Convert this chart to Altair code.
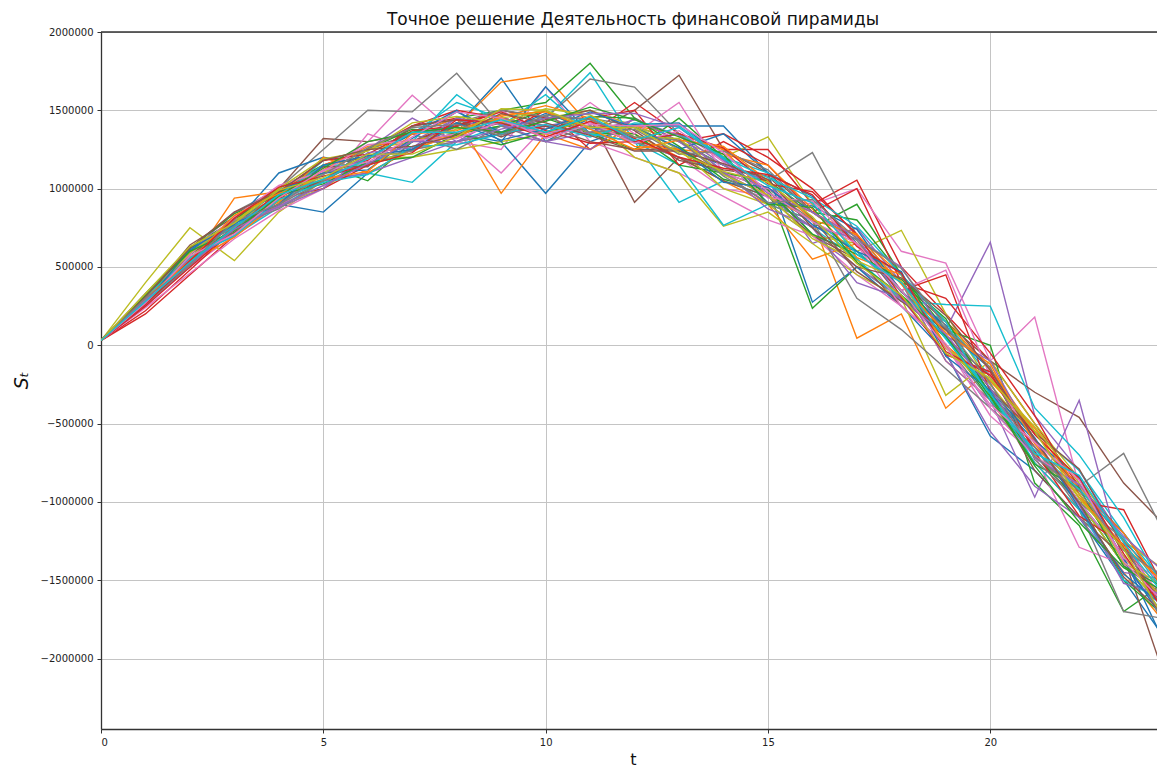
import altair as alt
import pandas as pd

# time steps
T = list(range(25))

# values, in thousands
UNIT = 1000
S00 = [30, 250, 540, 720, 900, 850, 1100, 1250, 1400, 1705, 1300, 1450, 1300, 1250, 1150, 1050, 700, 600, 350, 0, -400, -700, -1000, -1400, -1750]
S01 = [30, 280, 600, 800, 950, 1100, 1200, 1300, 1400, 1680, 1724, 1400, 1300, 1250, 1100, 950, 800, 45, 200, -402, -150, -600, -900, -1300, -1600]
S02 = [30, 300, 580, 780, 950, 1100, 1200, 1350, 1450, 1500, 1550, 1800, 1450, 1300, 1150, 1000, 236, 500, 300, 50, -300, -700, -1000, -1400, -1700]
S03 = [30, 200, 450, 700, 900, 1150, 1250, 1400, 1500, 1450, 1400, 1350, 1550, 1350, 1250, 1250, 900, 1054, 500, 200, -100, -500, -900, -1250, -1550]
S04 = [30, 270, 520, 760, 930, 1050, 1250, 1450, 1300, 1350, 1400, 1450, 1300, 1200, 1100, 900, 700, 500, 300, 100, 658, -450, -800, -1250, -1700]
S05 = [30, 300, 600, 800, 1000, 1320, 1300, 1350, 1400, 1450, 1400, 1350, 1500, 1724, 1250, 1100, 850, 650, 400, 150, -100, -300, -460, -880, -1170]
S06 = [30, 260, 500, 700, 900, 1100, 1300, 1596, 1350, 1100, 1400, 1350, 1300, 1200, 1000, 950, 900, 1000, 600, 524, -100, 180, -900, -1300, -1650]
S07 = [30, 320, 620, 850, 1000, 1250, 1500, 1490, 1737, 1400, 1350, 1450, 1400, 1300, 1150, 1000, 800, 600, 350, 50, -250, -650, -900, -690, -1250]
S08 = [30, 400, 750, 540, 850, 1050, 1150, 1250, 1350, 1400, 1450, 1500, 1400, 1300, 1200, 1330, 900, 600, 734, 200, -250, -600, -1000, -1400, -1700]
S09 = [30, 290, 560, 700, 880, 1050, 1100, 1040, 1300, 1400, 1450, 1740, 1300, 913, 1050, 950, 750, 550, 300, 150, -200, -550, -800, -1200, -1550]
S10 = [30, 280, 600, 780, 1100, 1200, 1150, 1300, 1350, 1300, 970, 1300, 1400, 1400, 1400, 1100, 275, 500, 250, -50, -580, -800, -1100, -1500, -1900]
S11 = [30, 310, 520, 940, 980, 1150, 1250, 1350, 1450, 970, 1350, 1400, 1350, 1200, 1050, 900, 550, 650, 400, -100, -350, -750, -1050, -1450, -1800]
S12 = [30, 330, 620, 800, 1000, 1150, 1050, 1300, 1400, 1500, 1450, 1350, 1250, 1450, 1200, 950, 750, 900, 450, 100, 0, -880, -1150, -1700, -1500]
S13 = [30, 220, 480, 740, 920, 1100, 1180, 1400, 1450, 1350, 1500, 1250, 1450, 1300, 1350, 1200, 1000, 700, 350, 450, -300, -650, -1000, -1050, -1600]
S14 = [30, 290, 590, 850, 950, 1050, 1100, 1200, 1300, 1450, 1400, 1350, 1300, 1350, 1150, 1050, 650, 750, 400, -100, -350, -970, -351, -1400, -1750]
S15 = [30, 300, 640, 820, 970, 1150, 1200, 1300, 1350, 1420, 1380, 1450, 913, 1200, 1050, 950, 700, 550, 250, 0, -300, -800, -1100, -1350, -2184]
S16 = [30, 240, 460, 680, 860, 1000, 1350, 1250, 1300, 1250, 1650, 1300, 1200, 1100, 950, 800, 700, 450, 250, 0, -450, -700, -1290, -1400, -1600]
S17 = [30, 280, 580, 780, 950, 1100, 1150, 1250, 1300, 1350, 1450, 1700, 1648, 1350, 1100, 1050, 1230, 700, 350, 0, -350, -700, -1000, -1350, -1650]
S18 = [30, 300, 560, 720, 900, 1000, 1200, 1200, 1250, 1300, 1350, 1450, 1200, 1100, 760, 850, 650, 450, 300, -320, -100, -500, -850, -1250, -1450]
S19 = [30, 260, 540, 780, 940, 1180, 1250, 1350, 1550, 1450, 1350, 1400, 1300, 1150, 766, 900, 800, 550, 280, 260, 250, -400, -700, -1100, -1600]
S20 = [30, 270, 620, 750, 960, 1100, 1200, 1350, 1500, 1300, 1650, 1350, 1400, 1250, 1350, 1100, 950, 650, 400, 100, -150, -600, -1000, -1350, -1950]
S21 = [30, 320, 560, 780, 920, 1200, 1100, 1250, 1350, 1450, 1350, 1250, 1400, 1350, 1250, 950, 850, 700, 450, 150, -150, -550, -950, -1300, -1700]
S22 = [30, 280, 500, 820, 980, 1050, 1250, 1380, 1350, 1400, 1500, 1350, 1350, 1150, 1100, 1050, 850, 800, 450, 50, -350, -700, -1000, -1500, -1750]
S23 = [30, 260, 520, 760, 940, 1000, 1150, 1300, 1400, 1500, 1450, 1450, 1500, 1150, 1300, 1150, 850, 1000, 400, 300, -50, -450, -950, -1350, -1650]
S24 = [30, 290, 600, 800, 900, 1100, 1150, 1300, 1450, 1350, 1300, 1250, 1450, 1300, 1100, 950, 750, 400, 300, -50, -550, -900, -1100, -1450, -1500]
S25 = [30, 310, 550, 740, 950, 1050, 1200, 1300, 1420, 1350, 1400, 1300, 1250, 1250, 1100, 1000, 850, 650, 300, 50, -200, -600, -900, -1200, -1600]
S26 = [30, 250, 500, 750, 880, 1100, 1200, 1300, 1350, 1500, 1350, 1550, 1350, 1550, 1100, 1000, 850, 650, 350, 480, -200, -600, -1000, -1350, -1700]
S27 = [30, 300, 580, 760, 900, 1050, 1250, 1350, 1250, 1400, 1300, 1400, 1300, 1200, 1100, 900, 800, 300, 100, -150, -400, -650, -1050, -1700, -1750]
S28 = [30, 280, 560, 800, 920, 1100, 1250, 1300, 1380, 1450, 1500, 1350, 1400, 1250, 1000, 900, 700, 650, 400, 0, -300, -700, -950, -1350, -1650]
S29 = [30, 310, 600, 760, 960, 1150, 1150, 1300, 1600, 1400, 1600, 1350, 1300, 1350, 1200, 1100, 800, 600, 350, 50, -300, -750, -1050, -1500, -1650]
S30 = [30, 270, 600, 770, 990, 1100, 1120, 1320, 1490, 1360, 1480, 1380, 1410, 1420, 1190, 910, 890, 740, 340, 130, -310, -610, -840, -1370, -1800]
S31 = [30, 320, 530, 690, 910, 1120, 1270, 1310, 1330, 1460, 1530, 1450, 1270, 1250, 1220, 1150, 870, 560, 450, 0, -230, -530, -920, -1200, -1590]
S32 = [30, 300, 620, 840, 960, 1030, 1170, 1200, 1350, 1280, 1360, 1460, 1450, 1270, 1060, 990, 710, 580, 420, 170, -320, -760, -910, -1410, -1560]
S33 = [30, 250, 500, 740, 980, 1180, 1220, 1370, 1400, 1490, 1370, 1290, 1300, 1350, 1260, 1030, 980, 710, 310, -60, -170, -680, -1090, -1270, -1750]
S34 = [30, 310, 550, 800, 880, 1000, 1230, 1260, 1450, 1410, 1300, 1360, 1440, 1340, 1110, 870, 760, 680, 500, 60, -100, -610, -1020, -1520, -1600]
S35 = [30, 280, 590, 720, 950, 1140, 1140, 1400, 1440, 1330, 1440, 1500, 1370, 1180, 1120, 1080, 810, 470, 280, 100, -280, -560, -790, -1290, -1710]
S36 = [30, 330, 580, 820, 1020, 1110, 1280, 1310, 1320, 1430, 1350, 1420, 1290, 1370, 1170, 940, 920, 640, 250, 10, -400, -710, -890, -1360, -1520]
S37 = [30, 260, 510, 760, 870, 1050, 1200, 1240, 1420, 1500, 1460, 1360, 1380, 1220, 1240, 1120, 850, 670, 340, 110, -140, -730, -1000, -1240, -1850]
S38 = [30, 290, 590, 790, 1000, 1190, 1240, 1420, 1460, 1420, 1510, 1470, 1330, 1320, 1090, 960, 680, 540, 410, -20, -220, -520, -880, -1390, -1550]
S39 = [30, 310, 560, 700, 930, 1040, 1090, 1270, 1280, 1350, 1410, 1330, 1420, 1400, 1200, 1070, 940, 760, 450, 150, -350, -670, -920, -1230, -1610]
S40 = [30, 270, 610, 780, 900, 1150, 1210, 1250, 1420, 1310, 1380, 1490, 1390, 1260, 1040, 1010, 770, 600, 470, -70, -290, -590, -1040, -1460, -1690]
S41 = [30, 300, 540, 830, 970, 1060, 1110, 1350, 1370, 1470, 1490, 1380, 1250, 1310, 1270, 1050, 800, 710, 390, 80, -120, -630, -970, -1280, -1540]
S42 = [30, 320, 600, 730, 950, 1130, 1300, 1360, 1390, 1360, 1430, 1520, 1440, 1330, 1220, 900, 880, 530, 320, 60, -330, -770, -1130, -1420, -1590]
S43 = [30, 260, 540, 810, 1010, 1080, 1150, 1230, 1440, 1420, 1330, 1430, 1320, 1200, 1130, 1090, 960, 630, 460, -40, -190, -570, -850, -1330, -1730]
S44 = [30, 290, 520, 740, 890, 1020, 1160, 1300, 1300, 1380, 1450, 1480, 1480, 1390, 1180, 970, 850, 690, 290, 70, -270, -720, -890, -1220, -1470]
S45 = [30, 310, 620, 850, 980, 1180, 1250, 1270, 1340, 1480, 1420, 1340, 1240, 1240, 1160, 1060, 750, 500, 430, 190, -160, -600, -1010, -1480, -1740]
S46 = [30, 270, 570, 710, 940, 1120, 1170, 1330, 1490, 1450, 1320, 1410, 1400, 1410, 1230, 980, 790, 650, 350, -10, -380, -620, -860, -1380, -1670]
S47 = [30, 300, 520, 790, 900, 1090, 1260, 1390, 1410, 1340, 1470, 1440, 1330, 1310, 1080, 910, 930, 680, 490, 120, -240, -710, -930, -1310, -1490]
S48 = [30, 330, 630, 780, 990, 1070, 1220, 1220, 1330, 1510, 1500, 1390, 1390, 1230, 1110, 1040, 820, 520, 320, -50, -210, -550, -980, -1300, -1790]
S49 = [30, 280, 530, 750, 960, 1060, 1190, 1360, 1360, 1440, 1360, 1460, 1310, 1390, 1190, 1020, 910, 580, 400, 40, -310, -690, -830, -1260, -1630]

SERIES = [S00, S01, S02, S03, S04, S05, S06, S07, S08, S09,
          S10, S11, S12, S13, S14, S15, S16, S17, S18, S19,
          S20, S21, S22, S23, S24, S25, S26, S27, S28, S29,
          S30, S31, S32, S33, S34, S35, S36, S37, S38, S39,
          S40, S41, S42, S43, S44, S45, S46, S47, S48, S49]

X_TICKS = [0, 5, 10, 15, 20]
Y_TICKS = [-2000000, -1500000, -1000000, -500000, 0, 500000, 1000000, 1500000, 2000000]
Y_TOP = 2000000
Y_BOTTOM = -2450000

TITLE = "Точное решение Деятельность финансовой пирамиды"

rows = []
for i, vals in enumerate(SERIES):
    for t, v in zip(T, vals):
        rows.append({"series": f"s{i:02d}", "t": t, "S": v * UNIT})
df = pd.DataFrame(rows)

FONT = "DejaVu Sans"
X_SCALE = alt.Scale(domain=[0, 23.75], nice=False, zero=False)
Y_SCALE = alt.Scale(domain=[Y_BOTTOM, Y_TOP], nice=False, zero=False)

lines = (
    alt.Chart(df)
    .mark_line(strokeWidth=1.4, clip=True)
    .encode(
        x=alt.X(
            "t:Q",
            scale=X_SCALE,
            axis=alt.Axis(
                values=X_TICKS, title="t", titleFontSize=16, titleFont=FONT,
                titleFontWeight="normal", titleColor="#111",
                titleX=532, titleY=35, titleBaseline="alphabetic",
            ),
        ),
        y=alt.Y(
            "S:Q",
            scale=Y_SCALE,
            axis=alt.Axis(
                values=Y_TICKS, format="d", title="Sₜ", titleFontSize=19,
                titleFont=FONT, titleFontWeight="normal", titleFontStyle="italic",
                titleColor="#111", titleX=-80, titleY=348, titleAngle=-90,
                titleAlign="center", titleBaseline="middle",
            ),
        ),
        color=alt.Color("series:N", scale=alt.Scale(scheme="category10"), legend=None),
    )
)

# top spine drawn as a rule at the top of the y domain
top_spine = (
    alt.Chart()
    .mark_rule(color="#333", strokeWidth=1.3)
    .encode(y=alt.datum(Y_TOP))
)

chart = (
    alt.layer(lines, top_spine)
    .properties(
        width=1056,
        height=697,
        autosize="none",
        padding={"left": 93, "top": 24, "right": 0, "bottom": 38},
        title=alt.TitleParams(
            TITLE, fontSize=17, font=FONT, fontWeight="normal", color="#111",
            anchor="middle", offset=-2, dx=4,
        ),
    )
    .configure_axis(
        gridColor="#c4c4c4",
        gridWidth=1,
        domainColor="#333",
        domainWidth=1.3,
        tickColor="#333",
        tickSize=4,
        labelFont=FONT,
        labelFontSize=10,
        labelColor="#222",
        labelPadding=4,
    )
    .configure_view(strokeWidth=0)
)

chart.save("out.html", embed_options={"renderer": "svg", "actions": False})
